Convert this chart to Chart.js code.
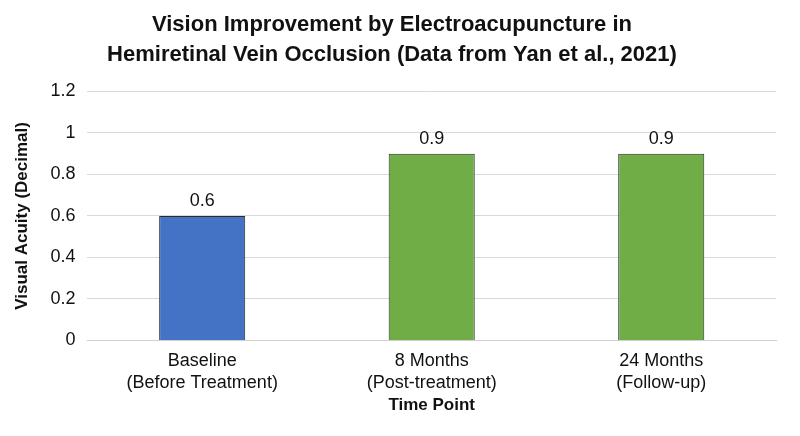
<!DOCTYPE html>
<html lang="en">
<head>
<meta charset="UTF-8">
<title>Vision Improvement by Electroacupuncture</title>
<script src="https://cdn.jsdelivr.net/npm/chart.js"></script>
<style>
  html, body { margin: 0; padding: 0; background: #fff; }
  #wrap { width: 800px; height: 436px; }
</style>
</head>
<body>
<div id="wrap"><canvas id="acuityChart"></canvas></div>
<script>
const categories = [
  ['Baseline', '(Before Treatment)'],
  ['8 Months', '(Post-treatment)'],
  ['24 Months', '(Follow-up)']
];
const acuity = [0.6, 0.9, 0.9];
const barColors = ['#4472C4', '#70AD47', '#70AD47'];
const yTicks = [0, 0.2, 0.4, 0.6, 0.8, 1, 1.2];

// draw value labels above bars
const valueLabels = {
  id: 'valueLabels',
  afterDatasetsDraw(chart) {
    const ctx = chart.ctx;
    const meta = chart.getDatasetMeta(0);
    ctx.save();
    ctx.font = '18px "Liberation Sans", Arial, sans-serif';
    ctx.fillStyle = '#111';
    ctx.textAlign = 'center';
    ctx.textBaseline = 'bottom';
    meta.data.forEach((bar, i) => {
      ctx.fillText(String(acuity[i]), bar.x, bar.y - 6);
    });
    ctx.restore();
  }
};

const ctx = document.getElementById('acuityChart').getContext('2d');
new Chart(ctx, {
  type: 'bar',
  data: {
    labels: categories,
    datasets: [{
      data: acuity,
      backgroundColor: barColors,
      borderColor: '#2b2b2b',
      borderWidth: 1,
      categoryPercentage: 1.0,
      barPercentage: 0.375
    }]
  },
  options: {
    responsive: true,
    maintainAspectRatio: false,
    animation: false,
    layout: { padding: { left: 8, right: 24, top: 4, bottom: 16 } },
    plugins: {
      legend: { display: false },
      tooltip: { enabled: false },
      title: {
        display: true,
        text: ['Vision Improvement by Electroacupuncture in',
               'Hemiretinal Vein Occlusion (Data from Yan et al., 2021)'],
        color: '#111',
        font: { family: '"Liberation Sans", Arial, sans-serif', size: 22, weight: 'bold', lineHeight: 1.35 },
        padding: { top: 6, bottom: 22 }
      }
    },
    scales: {
      x: {
        grid: { display: false },
        border: { color: '#d0d0d0' },
        ticks: {
          color: '#111',
          font: { family: '"Liberation Sans", Arial, sans-serif', size: 18 },
          padding: 2
        },
        title: {
          display: true,
          text: 'Time Point',
          color: '#111',
          font: { family: '"Liberation Sans", Arial, sans-serif', size: 17, weight: 'bold' },
          padding: { top: 0 }
        }
      },
      y: {
        min: 0,
        max: 1.2,
        afterBuildTicks(axis) { axis.ticks = yTicks.map(v => ({ value: v })); },
        grid: { color: '#d9d9d9', drawTicks: false },
        border: { display: false },
        ticks: {
          color: '#111',
          padding: 12,
          font: { family: '"Liberation Sans", Arial, sans-serif', size: 18 },
          callback: v => String(v)
        },
        title: {
          display: true,
          text: 'Visual Acuity (Decimal)',
          color: '#111',
          font: { family: '"Liberation Sans", Arial, sans-serif', size: 17, weight: 'bold' },
          padding: { bottom: 6 }
        }
      }
    }
  },
  plugins: [valueLabels]
});
</script>
</body>
</html>
